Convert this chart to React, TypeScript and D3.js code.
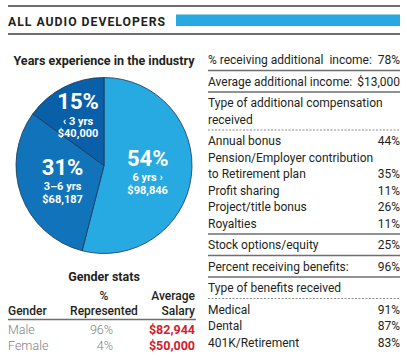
import React from "react";
import * as d3 from "d3";

const W = 407;
const H = 360;

const headerTitle = "ALL AUDIO DEVELOPERS";
const pieTitle = "Years experience in the industry";
const expShares = [54, 31, 15];
const expRanges = ["6 yrs ›", "3–6 yrs", "‹ 3 yrs"];
const expSalaries = ["$98,846", "$68,187", "$40,000"];
const expColors = ["#27a9e1", "#1174bb", "#0a5fa9"];

const genderTitle = "Gender stats";
const genderNames = ["Male", "Female"];
const genderShares = ["96%", "4%"];
const genderSalaries = ["$82,944", "$50,000"];

// right panel: label lines, value, separator after the row
const compLabels = [
  ["% receiving additional  income:"],
  ["Average additional income:"],
  ["Type of additional compensation", "received"],
  ["Annual bonus"],
  ["Pension/Employer contribution", "to Retirement plan"],
  ["Profit sharing"],
  ["Project/title bonus"],
  ["Royalties"],
  ["Stock options/equity"],
  ["Percent receiving benefits:"],
  ["Type of benefits received"],
  ["Medical"],
  ["Dental"],
  ["401K/Retirement"],
];
const compValues = ["78%", "$13,000", "", "44%", "35%", "11%", "26%", "11%", "25%", "96%", "", "91%", "87%", "83%"];
const compSeparators = ["solid", "solid", "dashed", "", "", "", "", "solid", "solid", "solid", "dashed", "", "", ""];

const FONT = "Roboto, 'DejaVu Sans', sans-serif";
const TEXT = "#231f20";

export default function App() {
  const cx = 104;
  const cy = 165.5;
  const r = 88;
  const pie = d3.pie<number>().sort(null).value((d) => d);
  const arcs = pie(expShares);
  const arc = d3.arc<d3.PieArcDatum<number>>().innerRadius(0).outerRadius(r);

  // right panel layout
  const px0 = 208;
  const px1 = 400;
  const lineH = 16.5;
  let cursor = 64;
  const rows: { lines: { text: string; y: number }[]; value: string; vy: number; sep: string; sy: number }[] = [];
  compLabels.forEach((lines, i) => {
    const ys = lines.map((t, j) => ({ text: t, y: cursor + j * lineH }));
    const last = ys[ys.length - 1].y;
    let sy = 0;
    if (compSeparators[i]) {
      sy = last + 6.5;
      cursor = sy + 15;
    } else {
      cursor = last + lineH;
    }
    rows.push({ lines: ys, value: compValues[i], vy: last, sep: compSeparators[i], sy });
  });

  const gx0 = 8;
  const gx1 = 196;
  const gRowY = [334, 349.5];

  return (
    <svg width={W} height={H} style={{ position: "absolute", left: 0, top: 0, background: "#fff" }} fontFamily={FONT}>
      {/* header */}
      <line x1={8} x2={400} y1={6} y2={6} stroke="#6d6e70" strokeWidth={2} />
      <line x1={8} x2={400} y1={34} y2={34} stroke="#6d6e70" strokeWidth={2} />
      <text x={8} y={26} fontSize={13.5} fontWeight={700} fill={TEXT} letterSpacing={1.1} textLength={158} lengthAdjust="spacingAndGlyphs">
        {headerTitle}
      </text>
      <rect x={176} y={14.5} width={224} height={11.5} fill="#27a9e1" />

      {/* pie */}
      <text x={cx} y={65} textAnchor="middle" fontSize={13} fontWeight={700} fill={TEXT} textLength={181} lengthAdjust="spacingAndGlyphs">
        {pieTitle}
      </text>
      <g transform={`translate(${cx},${cy})`}>
        {arcs.map((a, i) => (
          <path key={i} d={arc(a) || ""} fill={expColors[i]} stroke="#1d3557" strokeWidth={0.8} />
        ))}
        {arcs.map((a, i) => {
          const mid = (a.startAngle + a.endAngle) / 2;
          const lr = a.data < 20 ? r * 0.65 : r * 0.5;
          const x = Math.sin(mid) * lr;
          const y = -Math.cos(mid) * lr;
          return (
            <g key={"l" + i} fill="#fff" textAnchor="middle" fontWeight={700}>
              <text x={x} y={y - 5.5} fontSize={22}>{expShares[i]}%</text>
              <text x={x} y={y + 10} fontSize={11}>{expRanges[i]}</text>
              <text x={x} y={y + 22.5} fontSize={11}>{expSalaries[i]}</text>
            </g>
          );
        })}
      </g>

      {/* gender stats */}
      <text x={104} y={281} textAnchor="middle" fontSize={12.5} fontWeight={700} fill={TEXT}>{genderTitle}</text>
      <g fontSize={12} fontWeight={500} fill={TEXT}>
        <text x={gx0} y={315}>Gender</text>
        <text x={104} y={300} textAnchor="middle">%</text>
        <text x={104} y={315} textAnchor="middle">Represented</text>
        <text x={195} y={300} textAnchor="end">Average</text>
        <text x={195} y={315} textAnchor="end">Salary</text>
      </g>
      <line x1={gx0} x2={gx1} y1={319.5} y2={319.5} stroke="#6d6e70" strokeWidth={1.5} />
      {genderNames.map((g, i) => (
        <g key={g} fontSize={12.5}>
          <text x={gx0} y={gRowY[i]} fill="#808285" fontWeight={300}>{g}</text>
          <text x={113} y={gRowY[i]} fill="#808285" fontWeight={300} textAnchor="end">{genderShares[i]}</text>
          <text x={195} y={gRowY[i]} fill="#d2202f" fontWeight={700} textAnchor="end">{genderSalaries[i]}</text>
        </g>
      ))}

      {/* right panel */}
      {rows.map((row, i) => (
        <g key={"r" + i} fontSize={12} fontWeight={400} fill={TEXT}>
          {row.lines.map((l, j) => (
            <text key={j} x={px0} y={l.y} style={{ whiteSpace: "pre" }}>{l.text}</text>
          ))}
          {row.value && (
            <text x={px1} y={row.vy} textAnchor="end">{row.value}</text>
          )}
          {row.sep === "solid" && (
            <line x1={px0} x2={px1} y1={row.sy} y2={row.sy} stroke="#6d6e70" strokeWidth={1.6} />
          )}
          {row.sep === "dashed" && (
            <line x1={px0} x2={px1} y1={row.sy} y2={row.sy} stroke="#6d6e70" strokeWidth={0.8} strokeDasharray="2,1.5" />
          )}
        </g>
      ))}
    </svg>
  );
}
